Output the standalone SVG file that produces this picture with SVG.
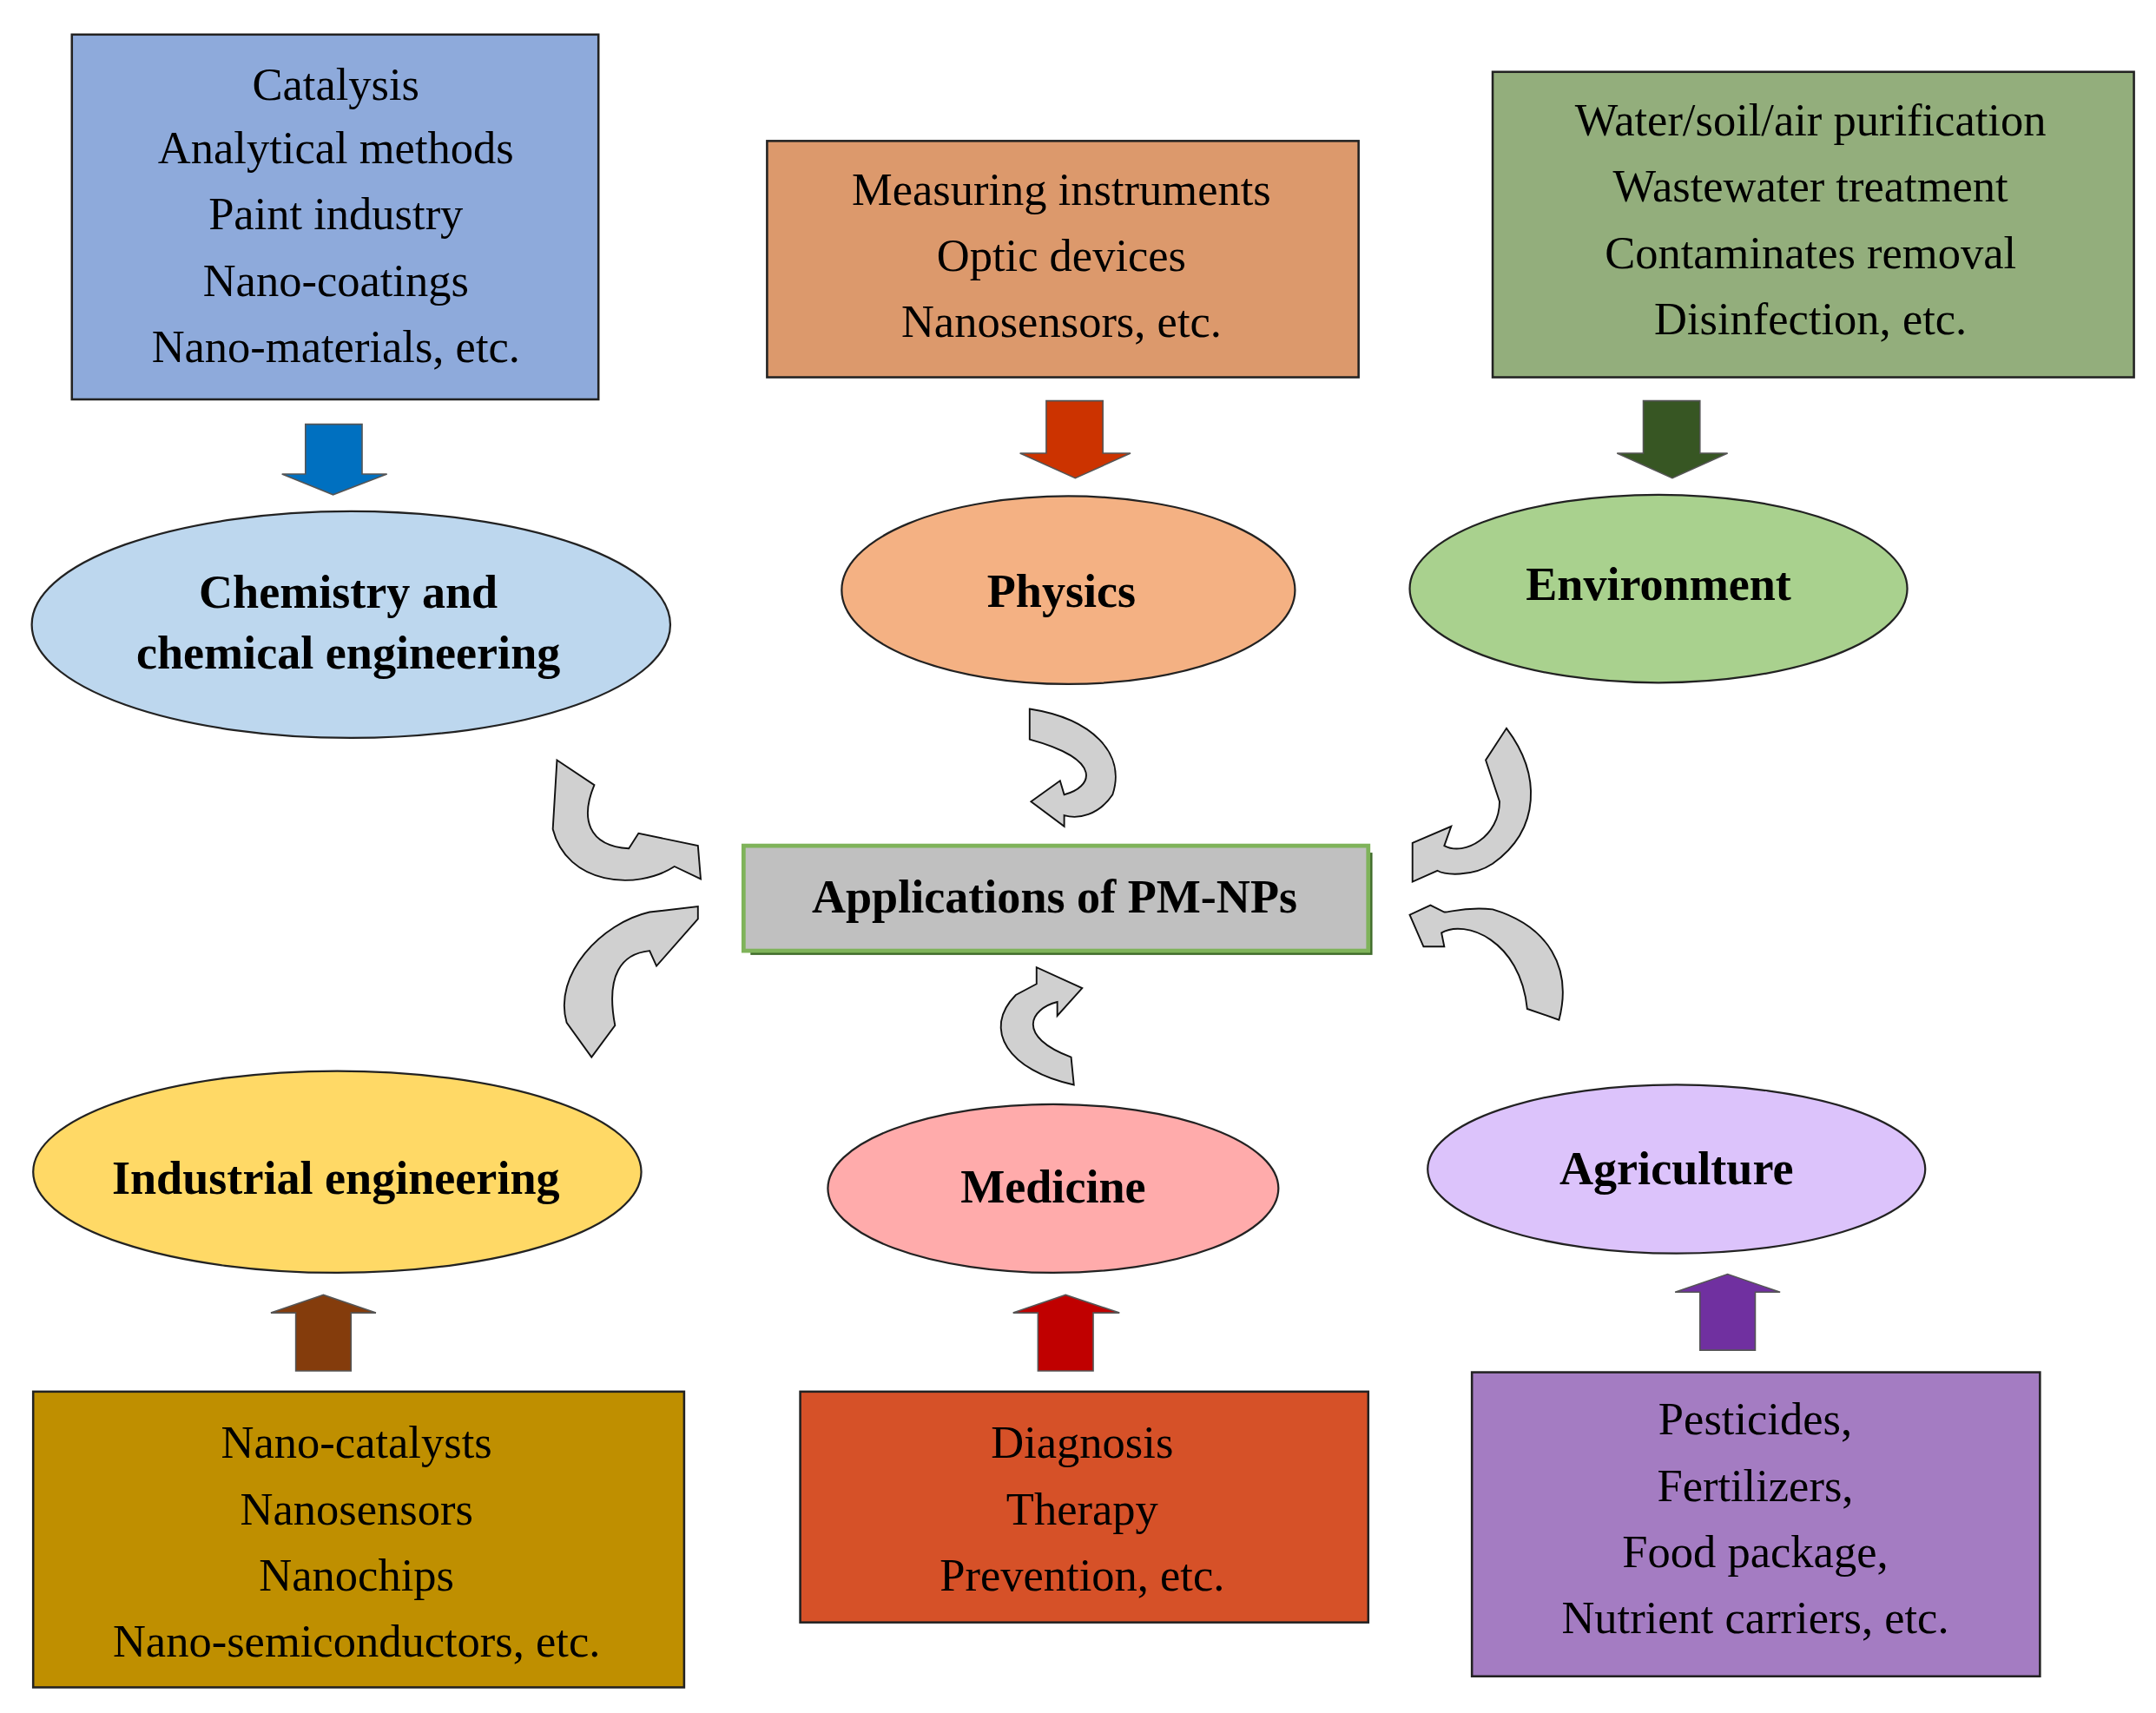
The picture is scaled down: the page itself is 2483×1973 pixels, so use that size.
<svg xmlns="http://www.w3.org/2000/svg" width="2483" height="1973" viewBox="0 0 2483 1973">
<style>
.box{stroke:#222;stroke-width:1.6}
.ell{stroke:#222;stroke-width:1.4}
.t{font-family:"Liberation Serif","DejaVu Serif",serif;font-size:33px;text-anchor:middle;fill:#000}
.b{font-family:"Liberation Serif","DejaVu Serif",serif;font-size:34px;font-weight:bold;text-anchor:middle;fill:#000}
.ca{fill:#d0d0d0;stroke:#111;stroke-width:1.2}
.ba{stroke:#555;stroke-width:1}
</style>
<rect width="2483" height="1973" fill="#fff"/>
<g transform="scale(1.5917)">
<g id="box-chem"><rect class="box" x="52" y="25" width="381" height="264" fill="#8eaadb"/>
<text class="t" x="243" y="72">Catalysis</text><text class="t" x="243" y="118">Analytical methods</text><text class="t" x="243" y="166">Paint industry</text><text class="t" x="243" y="214">Nano-coatings</text><text class="t" x="243" y="262">Nano-materials, etc.</text></g>
<g id="box-phys"><rect class="box" x="555" y="102" width="428" height="171" fill="#dc996c"/>
<text class="t" x="768" y="148">Measuring instruments</text><text class="t" x="768" y="196">Optic devices</text><text class="t" x="768" y="244">Nanosensors, etc.</text></g>
<g id="box-env"><rect class="box" x="1080" y="52" width="464" height="221" fill="#93ae7c"/>
<text class="t" x="1310" y="98">Water/soil/air purification</text><text class="t" x="1310" y="146">Wastewater treatment</text><text class="t" x="1310" y="194">Contaminates removal</text><text class="t" x="1310" y="242">Disinfection, etc.</text></g>
<g id="box-ind"><rect class="box" x="24" y="1007" width="471" height="214" fill="#bf8f00"/>
<text class="t" x="258" y="1055">Nano-catalysts</text><text class="t" x="258" y="1103">Nanosensors</text><text class="t" x="258" y="1151">Nanochips</text><text class="t" x="258" y="1199">Nano-semiconductors, etc.</text></g>
<g id="box-med"><rect class="box" x="579" y="1007" width="411" height="167" fill="#d65128"/>
<text class="t" x="783" y="1055">Diagnosis</text><text class="t" x="783" y="1103">Therapy</text><text class="t" x="783" y="1151">Prevention, etc.</text></g>
<g id="box-agr"><rect class="box" x="1065" y="993" width="411" height="220" fill="#a47cc2"/>
<text class="t" x="1270" y="1038">Pesticides,</text><text class="t" x="1270" y="1086">Fertilizers,</text><text class="t" x="1270" y="1134">Food package,</text><text class="t" x="1270" y="1182">Nutrient carriers, etc.</text></g>

<g id="ell-chem"><ellipse class="ell" cx="254" cy="452" rx="231" ry="82" fill="#bdd7ee"/>
<text class="b" x="252" y="440">Chemistry and</text><text class="b" x="252" y="484">chemical engineering</text></g>
<g id="ell-phys"><ellipse class="ell" cx="773" cy="427" rx="164" ry="68" fill="#f4b183"/><text class="b" x="768" y="439">Physics</text></g>
<g id="ell-env"><ellipse class="ell" cx="1200" cy="426" rx="180" ry="68" fill="#a9d18e"/><text class="b" x="1200" y="434">Environment</text></g>
<g id="ell-ind"><ellipse class="ell" cx="244" cy="848" rx="220" ry="73" fill="#ffd966"/><text class="b" x="243" y="864">Industrial engineering</text></g>
<g id="ell-med"><ellipse class="ell" cx="762" cy="860" rx="163" ry="61" fill="#ffabab"/><text class="b" x="762" y="870">Medicine</text></g>
<g id="ell-agr"><ellipse class="ell" cx="1213" cy="846" rx="180" ry="61" fill="#dcc3fb"/><text class="b" x="1213" y="857">Agriculture</text></g>

<g id="center"><rect x="543" y="617" width="450" height="74" fill="#3f6b2a"/>
<rect x="538" y="612" width="452" height="76" fill="#c0c0c0" stroke="#7fb35a" stroke-width="3"/>
<text class="b" x="763" y="660">Applications of PM-NPs</text></g>

<g id="connectors">
<path class="ba" fill="#0070c0" d="M221,307 H262 V343 H280 L241,358 L204,343 H221 Z"/>
<path class="ba" fill="#cc3300" d="M757,290 H798 V328 H818 L778,346 L738,328 H757 Z"/>
<path class="ba" fill="#375623" d="M1189,290 H1230 V328 H1250 L1210,346 L1170,328 H1189 Z"/>
<path class="ba" fill="#843c0c" d="M214,992 H254 V950 H272 L234,937 L196,950 H214 Z"/>
<path class="ba" fill="#c00000" d="M751,992 H791 V950 H810 L771,937 L733,950 H751 Z"/>
<path class="ba" fill="#7030a0" d="M1230,977 H1270 V935 H1288 L1250,922 L1212,935 H1230 Z"/>
<path class="ca" d="M403,550 L430,568 C420,592 425,612 455,614 L462,603 L505,612 L507,636 L488,627 C460,645 410,640 400,600 Z"/>
<path class="ca" d="M428,765 L445,742 C438,705 450,690 470,688 L475,699 L505,665 L505,656 L470,660 C435,668 400,705 410,740 Z"/>
<path class="ca" d="M745,513 C790,520 815,545 805,575 C795,590 780,593 770,590 L770,598 L746,580 L767,565 L770,575 C790,570 800,550 745,535 Z"/>
<path class="ca" d="M777,785 C730,775 710,745 735,720 L750,712 L750,700 L783,715 L765,735 L765,725 C745,730 735,750 775,765 Z"/>
<path class="ca" d="M1090,527 C1115,560 1115,600 1080,625 C1065,635 1045,633 1040,630 L1022,638 L1022,610 L1050,598 L1045,612 C1060,620 1085,605 1085,580 L1075,550 Z"/>
<path class="ca" d="M1128,738 C1138,700 1120,670 1080,658 C1060,656 1050,660 1045,660 L1035,655 L1020,662 L1030,685 L1045,685 L1043,675 C1060,665 1100,680 1105,730 Z"/>
</g>
</g>
</svg>
